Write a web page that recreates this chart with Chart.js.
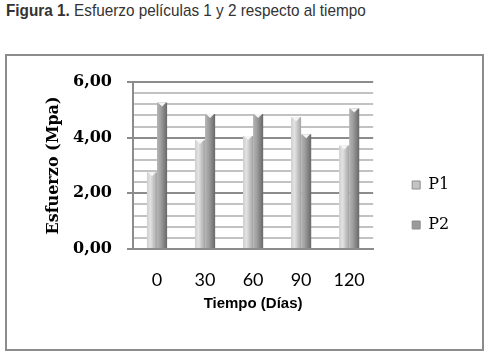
<!DOCTYPE html>
<html>
<head>
<meta charset="utf-8">
<script src="https://cdn.jsdelivr.net/npm/chart.js@4/dist/chart.umd.min.js"></script>
<style>
  html, body { margin: 0; padding: 0; background: #fff; }
  body { width: 491px; height: 354px; position: relative; overflow: hidden; }
  #caption {
    position: absolute; left: 6px; top: 1px;
    font-family: "Liberation Sans Narrow", "Liberation Sans", sans-serif;
    font-size: 17px; color: #333; white-space: nowrap;
    transform: scaleX(0.9); transform-origin: 0 0;
  }
  #caption b { font-weight: bold; }
  #frame {
    position: absolute; left: 5px; top: 54px;
    width: 475px; height: 293px;
    border: 2px solid #8c8c8c;
  }
  #chart { display: block; }
</style>
</head>
<body>
<div id="caption"><b>Figura 1.</b> Esfuerzo películas 1 y 2 respecto al tiempo</div>
<div id="frame"><canvas id="chart" width="475" height="293"></canvas></div>
<script>
// Stress of films P1 and P2 over time
const DAYS = ['0', '30', '60', '90', '120'];
const P1 = [2.76, 3.92, 4.06, 4.73, 3.72];
const P2 = [5.26, 4.85, 4.85, 4.12, 5.05];

const CAT_PCT = 0.42;

// horizontal shading so the bars look like rounded columns
function barFill(ctx, stops) {
  const chart = ctx.chart;
  const xs = chart.scales.x;
  if (ctx.type !== 'data' || !xs || !xs.width) return stops[1];
  const center = xs.getPixelForValue(ctx.dataIndex);
  const barW = (xs.width / DAYS.length) * CAT_PCT / 2;
  const left = center - barW + ctx.datasetIndex * barW;
  const g = chart.ctx.createLinearGradient(left, 0, left + barW, 0);
  g.addColorStop(0, stops[0]);
  g.addColorStop(0.35, stops[1]);
  g.addColorStop(1, stops[2]);
  return g;
}

// small white notch at the top of each column
const tipPlugin = {
  id: 'tips',
  afterDatasetsDraw(chart) {
    const c = chart.ctx;
    c.save();
    c.fillStyle = '#f6f6f6';
    chart.data.datasets.forEach((ds, i) => {
      chart.getDatasetMeta(i).data.forEach(bar => {
        const hw = bar.width / 2;
        c.beginPath();
        c.moveTo(bar.x - hw + 1, bar.y);
        c.lineTo(bar.x + hw - 1, bar.y);
        c.lineTo(bar.x, bar.y + 4);
        c.closePath();
        c.fill();
      });
    });
    c.restore();
  }
};

const isMajor = v => Math.abs(v / 2 - Math.round(v / 2)) < 1e-6;

new Chart(document.getElementById('chart'), {
  type: 'bar',
  data: {
    labels: DAYS,
    datasets: [
      {
        label: 'P1',
        data: P1,
        backgroundColor: ctx => barFill(ctx, ['#cfcfcf', '#e2e2e2', '#a4a4a4']),
        categoryPercentage: CAT_PCT,
        barPercentage: 1.0
      },
      {
        label: 'P2',
        data: P2,
        backgroundColor: ctx => barFill(ctx, ['#b4b4b4', '#a0a0a0', '#686868']),
        categoryPercentage: CAT_PCT,
        barPercentage: 1.0
      }
    ]
  },
  options: {
    responsive: false,
    animation: false,
    layout: { padding: { left: 37, top: 26, right: 25, bottom: 21 } },
    plugins: {
      tooltip: { enabled: false },
      legend: {
        position: 'right',
        labels: {
          boxWidth: 8,
          boxHeight: 8,
          padding: 24,
          color: '#000',
          font: { family: '"DejaVu Serif", serif', size: 16 },
          generateLabels(chart) {
            const fills = ['#c4c4c4', '#9a9a9a'];
            return chart.data.datasets.map((ds, i) => ({
              text: ds.label,
              fillStyle: fills[i],
              strokeStyle: '#8c8c8c',
              lineWidth: 1,
              datasetIndex: i,
              hidden: false
            }));
          }
        }
      }
    },
    scales: {
      x: {
        grid: { display: false, drawTicks: false },
        border: { color: '#8c8c8c', width: 2 },
        ticks: {
          color: '#000',
          padding: 20,
          font: { family: 'Lato, sans-serif', size: 18 }
        },
        title: {
          display: true,
          text: 'Tiempo (Días)',
          color: '#000',
          padding: { top: 5, bottom: 15 },
          font: { family: '"Liberation Sans", Arial, sans-serif', size: 15, weight: 'bold' }
        },
        afterFit(scale) { scale.height = 79; }
      },
      y: {
        min: 0,
        max: 6,
        border: { color: '#8c8c8c', width: 2 },
        grid: {
          color: ctx => isMajor(ctx.tick.value) ? '#8c8c8c' : '#c2c2c2',
          tickColor: ctx => isMajor(ctx.tick.value) ? '#8c8c8c' : 'rgba(0,0,0,0)',
          lineWidth: 2,
          tickLength: 6
        },
        ticks: {
          stepSize: 0.4,
          autoSkip: false,
          padding: 15,
          color: '#000',
          font: { family: '"DejaVu Serif", serif', size: 16, weight: 'bold' },
          callback: v => isMajor(v) ? v.toFixed(2).replace('.', ',') : ''
        },
        title: {
          display: true,
          text: 'Esfuerzo (Mpa)',
          color: '#000',
          padding: 0,
          font: { family: '"DejaVu Serif", serif', size: 16, weight: 'bold' }
        },
        afterFit(scale) { scale.width = 89; }
      },
      // empty right axis, only keeps the gap between plot and legend
      gap: {
        type: 'linear',
        position: 'right',
        display: true,
        grid: { display: false, drawTicks: false },
        border: { display: false },
        ticks: { display: false },
        afterFit(scale) { scale.width = 15; }
      }
    }
  },
  plugins: [tipPlugin]
});
</script>
</body>
</html>
